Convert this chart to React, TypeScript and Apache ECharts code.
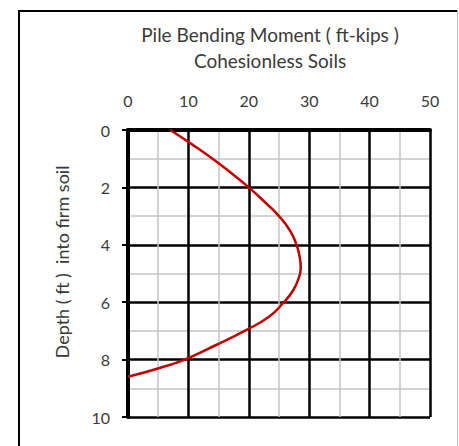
import React, { useEffect, useRef } from "react";
import * as echarts from "echarts";

const depthFt = [0, 0.5, 1, 1.5, 2, 2.5, 3, 3.5, 4, 4.4, 4.8, 5.2, 5.6, 6, 6.5, 7, 7.5, 8, 8.3, 8.6];
const momentFtKips = [7.0, 10.6, 14.0, 17.1, 20.0, 22.6, 25.0, 26.8, 27.9, 28.4, 28.6, 28.2, 27.3, 25.8, 23.4, 19.3, 14.5, 9.4, 5.1, 0];
const titleLines = ["Pile Bending Moment ( ft-kips )", "Cohesionless Soils"];
const yAxisTitle = "Depth ( ft )  into firm soil";

const FONT = "Lato, 'Open Sans', sans-serif";

export default function App() {
  const ref = useRef<HTMLDivElement>(null);
  useEffect(() => {
    if (!ref.current) return;
    const chart = echarts.init(ref.current, null, { renderer: "svg" });
    const data = depthFt.map((d, i) => [momentFtKips[i], d]);
    chart.setOption({
      animation: false,
      backgroundColor: "#ffffff",
      grid: { left: 128, top: 130, width: 302, height: 287, containLabel: false },
      xAxis: {
        type: "value",
        position: "top",
        min: 0,
        max: 50,
        interval: 10,
        axisLine: { show: true, onZero: false, lineStyle: { color: "#000", width: 4 } },
        axisTick: { show: false },
        axisLabel: { margin: 22, fontSize: 16, color: "#3a3a3a", fontFamily: FONT },
        splitLine: { show: true, lineStyle: { color: "#000", width: 2.5 } },
        minorTick: { show: false, splitNumber: 2 },
        minorSplitLine: { show: true, lineStyle: { color: "#c4c4c4", width: 1.5 } },
      },
      yAxis: {
        type: "value",
        inverse: true,
        min: 0,
        max: 10,
        interval: 2,
        axisLine: { show: true, onZero: false, lineStyle: { color: "#000", width: 4 } },
        axisTick: { show: true, length: 6, lineStyle: { color: "#000", width: 2 } },
        axisLabel: { margin: 18, fontSize: 16, color: "#3a3a3a", fontFamily: FONT },
        splitLine: { show: true, lineStyle: { color: "#000", width: 2.5 } },
        minorTick: { show: false, splitNumber: 2 },
        minorSplitLine: { show: true, lineStyle: { color: "#c4c4c4", width: 1.5 } },
      },
      series: [
        {
          type: "line",
          data,
          smooth: true,
          showSymbol: false,
          symbol: "none",
          lineStyle: { color: "#c00000", width: 2.5 },
          z: 5,
        },
      ],
      graphic: [
        { type: "line", shape: { x1: 18, y1: 11, x2: 457, y2: 11 }, style: { stroke: "#000", lineWidth: 2 }, z: 10 },
        { type: "line", shape: { x1: 19, y1: 10, x2: 19, y2: 446 }, style: { stroke: "#000", lineWidth: 2 }, z: 10 },
        { type: "line", shape: { x1: 457.5, y1: 10, x2: 457.5, y2: 446 }, style: { stroke: "#bdbdbd", lineWidth: 1 }, z: 10 },
        {
          type: "text",
          x: 270,
          y: 34,
          style: { text: titleLines[0], fontSize: 19, fontFamily: FONT, fill: "#3a3a3a", align: "center", verticalAlign: "middle" },
        },
        {
          type: "text",
          x: 270,
          y: 60,
          style: { text: titleLines[1], fontSize: 19, fontFamily: FONT, fill: "#3a3a3a", align: "center", verticalAlign: "middle" },
        },
        {
          type: "text",
          x: 62,
          y: 262,
          rotation: Math.PI / 2,
          style: { text: yAxisTitle, fontSize: 18, fontFamily: FONT, fill: "#3a3a3a", align: "center", verticalAlign: "middle" },
        },
      ],
    });
    return () => chart.dispose();
  }, []);
  return <div ref={ref} style={{ position: "fixed", left: 0, top: 0, width: 459, height: 446 }} />;
}
